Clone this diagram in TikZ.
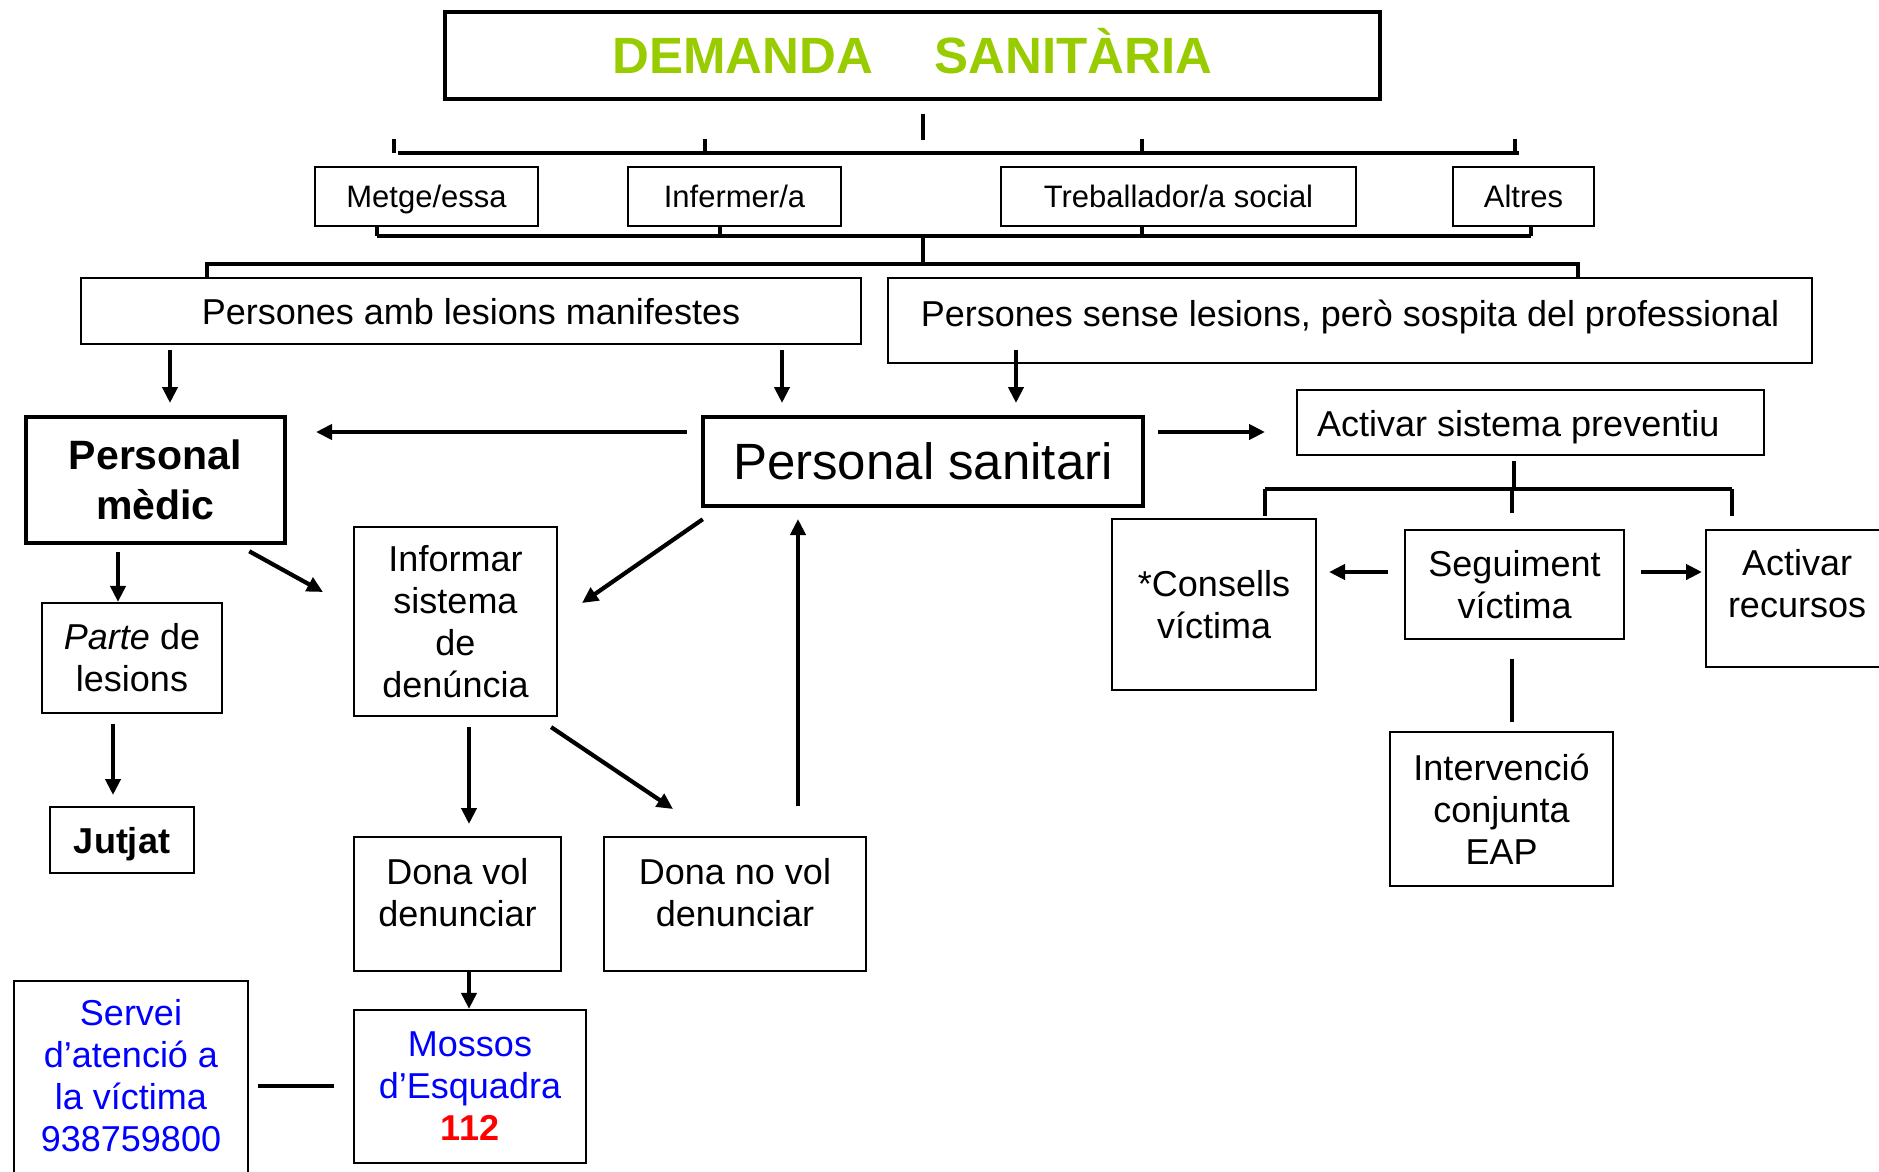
\documentclass[tikz,border=0pt]{standalone}
\usepackage{fontspec}
\setmainfont{Liberation Sans}
\usetikzlibrary{arrows.meta}
\definecolor{titlegreen}{HTML}{99CC00}
\definecolor{svblue}{HTML}{0000FF}
\definecolor{svred}{HTML}{FF0000}
\newcommand\mkbox[7]{\node[#2, minimum width={#5-#3}, minimum height={#6-#4}] (#1) at ({(#3+#5)/2},{(#4+#6)/2}) {#7};}
\begin{document}
\begin{tikzpicture}[x=1pt,y=-1pt,
  box/.style={draw, line width=2.2pt, inner sep=0pt, align=center, font=\fontsize{36}{42}\selectfont},
  thickbox/.style={draw, line width=4.5pt, inner sep=0pt, align=center},
  small/.style={font=\fontsize{31}{36}\selectfont, text height=22pt, text depth=0pt},
  oneline/.style={text height=26pt, text depth=0pt},
  lbl/.style={inner sep=0pt, align=center, font=\fontsize{36}{42}\selectfont},
  arr/.style={line width=4.2pt, -{Triangle[length=16pt,width=15pt]}},
  link/.style={line width=4.5pt},
  tick/.style={line width=3.5pt},
]
\useasboundingbox (0,0) rectangle (1879,1171);
\begin{scope}
\clip (0,0) rectangle (1879,1171);

% title
\mkbox{title}{thickbox,text=titlegreen,font=\fontsize{51}{60}\selectfont\bfseries,text height=36.5pt,text depth=0pt}{445}{12}{1380}{99}{DEMANDA\hspace{62pt}SANITÀRIA}

% professionals
\mkbox{metge}{box,small}{315}{167}{538}{226}{Metge/essa}
\mkbox{inferm}{box,small}{628}{167}{841}{226}{Infermer/a}
\mkbox{treb}{box,small}{1001}{167}{1356}{226}{Treballador/a social}
\mkbox{altres}{box,small}{1453}{167}{1594}{226}{Altres}

% persons
\mkbox{pamb}{box,oneline}{81}{278}{861}{344}{Persones amb lesions manifestes}
\mkbox{psense}{box}{888}{278}{1812}{363}{}
\node[lbl, anchor=base] (psenseT) at (1350,326) {Persones sense lesions, però sospita del professional};

% main row
\mkbox{pmedic}{thickbox,font=\fontsize{41}{50}\selectfont\bfseries}{26}{417}{285}{543}{Personal\\mèdic}
\mkbox{psan}{thickbox,font=\fontsize{51}{60}\selectfont,text height=36.5pt,text depth=0pt}{703}{417}{1143}{506}{Personal sanitari}
\mkbox{activ}{box}{1297}{390}{1764}{455}{}
\node[lbl, anchor=base west] (activT) at (1317,436) {Activar sistema preventiu};

% preventive branch
\mkbox{consells}{box}{1112}{519}{1316}{690}{*Consells\\víctima}
\mkbox{seguim}{box}{1405}{530}{1624}{639}{Seguiment\\víctima}
\mkbox{recursos}{box}{1706}{530}{1892}{667}{}
\node[lbl] (recursosT) at (1797,584) {Activar\\recursos};
\mkbox{interv}{box}{1390}{732}{1613}{886}{Intervenció\\conjunta\\EAP}

% left column
\mkbox{parte}{box}{42}{603}{222}{713}{\textit{Parte} de\\lesions}
\mkbox{jutjat}{box,oneline,font=\fontsize{36}{42}\selectfont\bfseries}{50}{807}{194}{873}{Jutjat}
\mkbox{informar}{box}{354}{527}{557}{716}{Informar\\sistema\\de\\denúncia}
\mkbox{donavol}{box}{354}{837}{561}{971}{}
\node[lbl] (donavolT) at (457.5,893) {Dona vol\\denunciar};
\mkbox{donanovol}{box}{604}{837}{866}{971}{}
\node[lbl] (donanovolT) at (735,893) {Dona no vol\\denunciar};
\mkbox{mossos}{box,text=svblue}{354}{1010}{586}{1163}{Mossos\\d’Esquadra\\\textcolor{svred}{\bfseries 112}}
\mkbox{servei}{box}{14}{981}{248}{1200}{}
\node[lbl, text=svblue] (serveiT) at (131,1076) {Servei\\d’atenció a\\la víctima\\938759800};

% connectors at top
\draw[tick] (title.south) ++(10.5,13) -- ++(0,26);
\draw[link] (398,153) -- (1519,153);
\draw[tick] (394,139) -- (394,153);
\draw[tick] (705,139) -- (705,153);
\draw[tick] (1142,139) -- (1142,153);
\draw[tick] (1515,139) -- (1515,153);

\draw[tick] (metge.south -| 377,0) -- (377,236);
\draw[tick] (inferm.south -| 720,0) -- (720,236);
\draw[tick] (treb.south -| 1142,0) -- (1142,236);
\draw[tick] (altres.south -| 1531,0) -- (1531,236);
\draw[link] (377,236) -- (1531,236);
\draw[tick] (923,236) -- (923,264);
\draw[link] (pamb.north -| 207,0) -- (207,264) -- (1578,264) -- (psense.north -| 1578,0);

% arrows
\draw[arr] (pamb.south -| 170,0) ++(0,5) -- (170,403);
\draw[arr] (pamb.south -| 782,0) ++(0,5) -- (782,403);
\draw[arr] (psense.south -| 1016,0) ++(0,-14) -- (1016,403);
\draw[arr] (psan.west |- 0,432) ++(-14,0) -- (316,432);
\draw[arr] (psan.east |- 0,432) ++(13,0) -- (1265,432);
\draw[arr] (pmedic.south -| 118,0) ++(0,7) -- (parte.north -| 118,0);
\draw[arr] (pmedic.south east) ++(-38,6) -- (323,592);
\draw[arr] (psan.south west) ++(2,11) -- (582,603);
\draw[arr] (donanovol.north -| 798,0) ++(0,-30) -- (798,519);
\draw[arr] (parte.south -| 113,0) ++(0,10) -- (113,795);
\draw[arr] (informar.south -| 469,0) ++(0,10) -- (469,824);
\draw[arr] (informar.south east) ++(-7,10) -- (673,809);
\draw[arr] (donavol.south -| 469,0) -- (mossos.north -| 469,0);
\draw[link] (servei.east |- 0,1086) ++(9,0) -- (334,1086);

% preventive branch connectors
\draw[tick] (activ.south -| 1514,0) ++(0,5) -- (1514,489);
\draw[tick] (1265,489) -- (1732,489);
\draw[tick] (1265,489) -- (1265,516);
\draw[tick] (1512,489) -- (1512,513);
\draw[tick] (1732,489) -- (1732,516);
\draw[arr] (seguim.west |- 0,572) ++(-16,0) -- (1329,572);
\draw[arr] (seguim.east |- 0,572) ++(16,0) -- (1702,572);
\draw[link] (seguim.south -| 1512,0) ++(0,19) -- (1512,722);
\end{scope}
\end{tikzpicture}
\end{document}
